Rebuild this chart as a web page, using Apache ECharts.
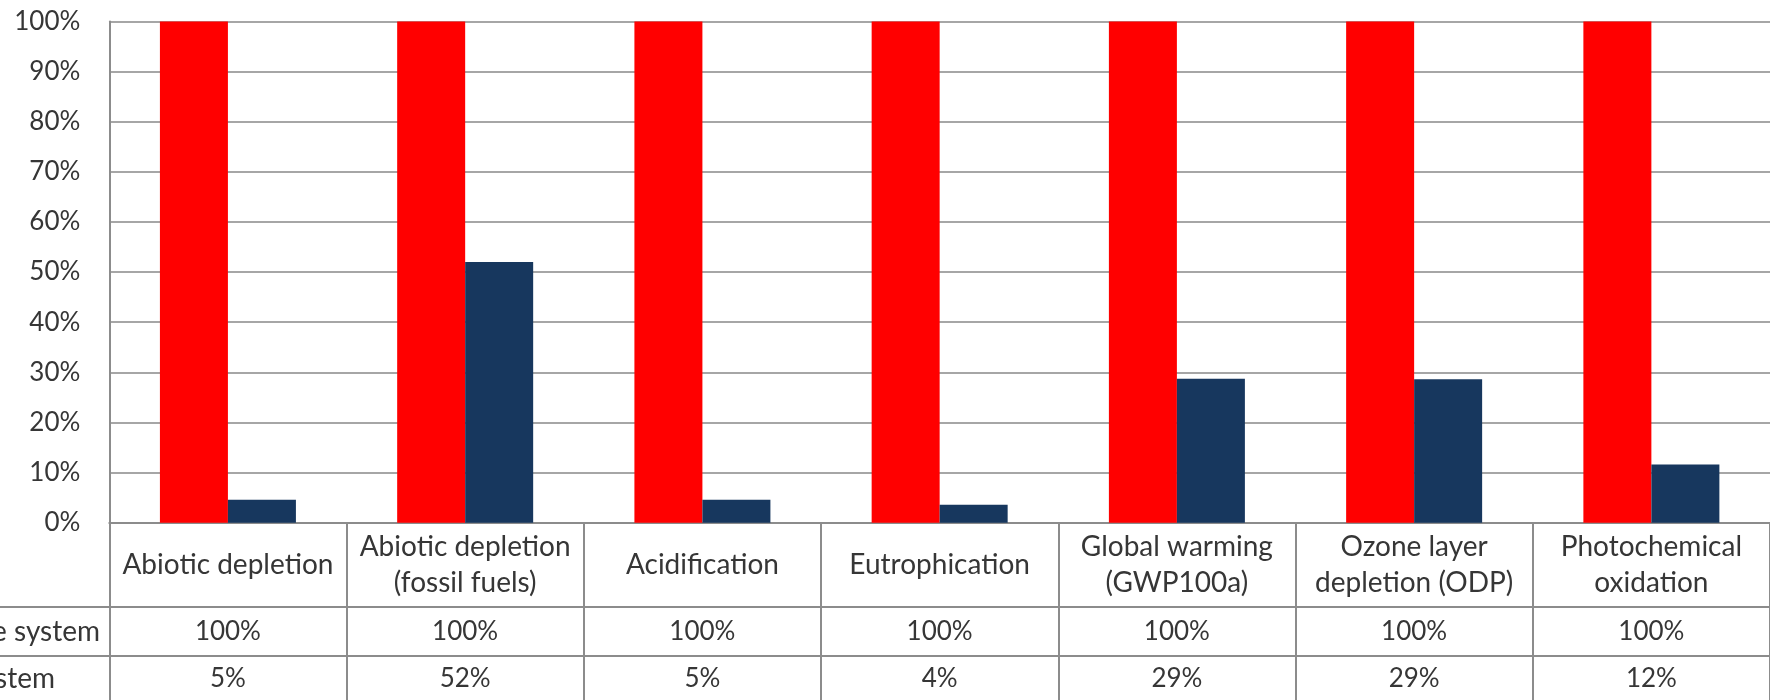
<!DOCTYPE html>
<html>
<head>
<meta charset="utf-8">
<script src="https://cdn.jsdelivr.net/npm/echarts@6/dist/echarts.min.js"></script>
<style>
html,body{margin:0;padding:0;background:#fff;}
#chart{width:1770px;height:700px;}
</style>
</head>
<body>
<div id="chart"></div>
<script>
// ---- data ----
const categories = [
  'Abiotic depletion',
  'Abiotic depletion\n(fossil fuels)',
  'Acidification',
  'Eutrophication',
  'Global warming\n(GWP100a)',
  'Ozone layer\ndepletion (ODP)',
  'Photochemical\noxidation'
];
const firstSystem = [100, 100, 100, 100, 100, 100, 100];
const secondSystem = [4.6, 52.0, 4.6, 3.6, 28.7, 28.6, 11.6];
const rowHeaders = ['e system', 'stem'];   // row titles, clipped at the left edge
const yTicks = [0, 10, 20, 30, 40, 50, 60, 70, 80, 90, 100];

// ---- layout ----
const W = 1770, H = 700;
const gridLeft = 109.3, gridTop = 21.5, colW = 240;
const axisY = 522.7;
const row2Y = 607, row3Y = 656, tableBottom = 706;
const gridRight = W - (gridLeft + colW * categories.length);
const FONT = 'Lato';
const FS_TXT = 28;
const FS_NUM = 26;
const TEXT = '#363636';
const LINE = '#8c8c8c';

const chart = echarts.init(document.getElementById('chart'), null, {renderer: 'canvas'});
const pct = v => Math.round(v) + '%';

chart.setOption({
  animation: false,
  backgroundColor: '#fff',
  textStyle: {fontFamily: FONT},
  grid: {left: gridLeft, top: gridTop, right: gridRight, bottom: H - axisY, containLabel: false},
  yAxis: {
    type: 'value', min: yTicks[0], max: yTicks[yTicks.length - 1], interval: 10,
    axisLabel: {formatter: v => v + '%', fontSize: FS_NUM, color: TEXT, fontFamily: FONT, margin: 29},
    axisLine: {show: true, lineStyle: {color: LINE, width: 2}},
    axisTick: {show: false},
    splitLine: {show: true, lineStyle: {color: '#a6a6a6', width: 2}}
  },
  xAxis: [
    {
      type: 'category', data: categories, position: 'bottom', boundaryGap: true,
      axisLine: {show: true, lineStyle: {color: LINE, width: 2}},
      axisTick: {show: true, interval: 0, length: tableBottom - axisY, lineStyle: {color: LINE, width: 2}},
      axisLabel: {interval: 0, fontSize: FS_TXT, lineHeight: 36, color: TEXT, fontFamily: FONT,
        verticalAlign: 'middle', align: 'center', margin: (row2Y - axisY) / 2}
    },
    {
      type: 'category', data: categories, position: 'bottom', offset: row2Y - axisY, boundaryGap: true,
      axisLine: {show: true, lineStyle: {color: LINE, width: 2}},
      axisTick: {show: false},
      axisLabel: {interval: 0, fontSize: FS_NUM, color: TEXT, fontFamily: FONT, verticalAlign: 'middle',
        margin: (row3Y - row2Y) / 2, formatter: (v, i) => pct(firstSystem[i])}
    },
    {
      type: 'category', data: categories, position: 'bottom', offset: row3Y - axisY, boundaryGap: true,
      axisLine: {show: true, lineStyle: {color: LINE, width: 2}},
      axisTick: {show: false},
      axisLabel: {interval: 0, fontSize: FS_NUM, color: TEXT, fontFamily: FONT, verticalAlign: 'middle',
        margin: (tableBottom - row3Y) / 2 - 2, formatter: (v, i) => pct(secondSystem[i])}
    }
  ],
  series: [
    {name: 'first system', type: 'bar', xAxisIndex: 0, data: firstSystem, barWidth: 68, barGap: '0%',
      itemStyle: {color: '#FF0000'}},
    {name: 'second system', type: 'bar', xAxisIndex: 0, data: secondSystem, barWidth: 68, barGap: '0%',
      itemStyle: {color: '#17375E'}}
  ],
  graphic: [
    {type: 'line', shape: {x1: 0, y1: row2Y, x2: gridLeft, y2: row2Y}, style: {stroke: LINE, lineWidth: 2}},
    {type: 'line', shape: {x1: 0, y1: row3Y, x2: gridLeft, y2: row3Y}, style: {stroke: LINE, lineWidth: 2}},
    {type: 'text', x: 100, y: (row2Y + row3Y) / 2,
      style: {text: rowHeaders[0], font: FS_TXT + 'px ' + FONT, fill: TEXT, align: 'right', verticalAlign: 'middle'}},
    {type: 'text', x: 55, y: (row3Y + tableBottom) / 2 - 2,
      style: {text: rowHeaders[1], font: FS_TXT + 'px ' + FONT, fill: TEXT, align: 'right', verticalAlign: 'middle'}}
  ]
});
</script>
</body>
</html>
